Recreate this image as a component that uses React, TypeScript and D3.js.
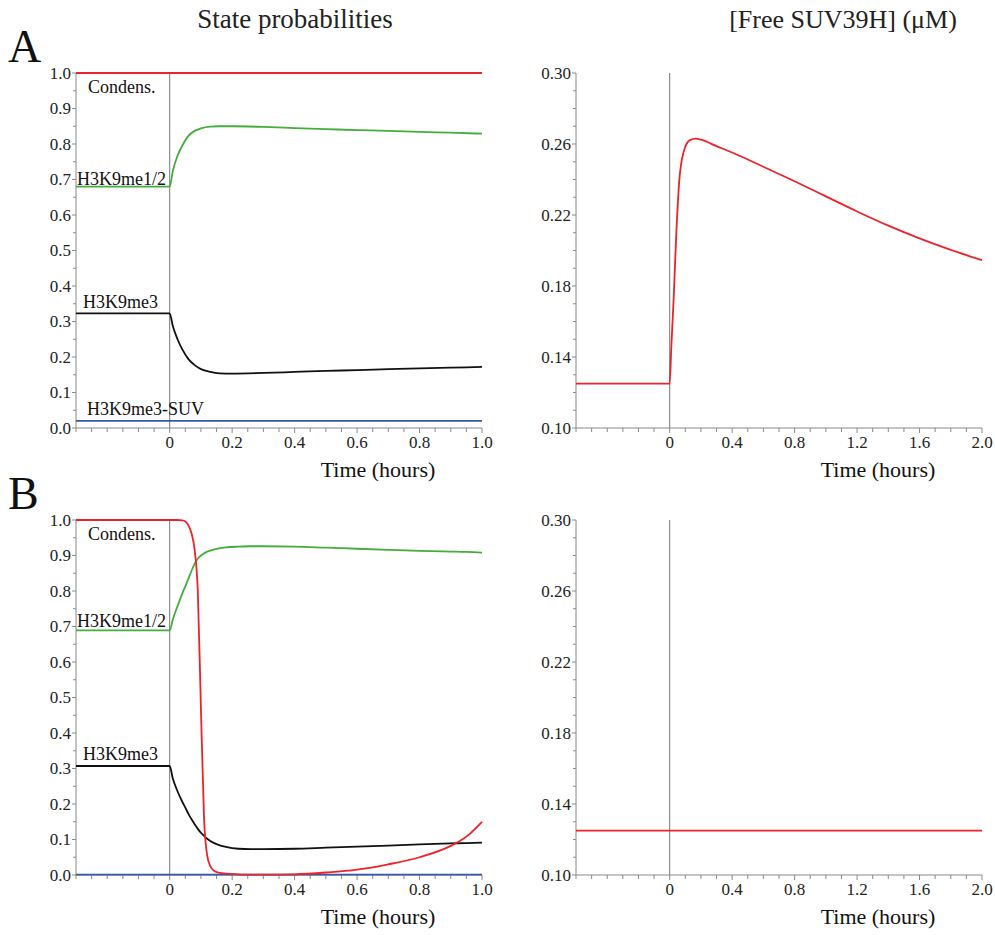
import React from "react";
import * as d3 from "d3";

// ---------- DATA ----------
// Panel A, state probabilities (time in hours)
const tA = [-0.3, 0, 0.01, 0.025, 0.04, 0.06, 0.08, 0.1, 0.13, 0.16, 0.2, 0.3, 0.4, 0.5, 0.6, 0.7, 0.8, 0.9, 1.0];
const A_condens = [1, 1, 1, 1, 1, 1, 1, 1, 1, 1, 1, 1, 1, 1, 1, 1, 1, 1, 1];
const A_me12 = [0.68, 0.68, 0.724, 0.767, 0.795, 0.823, 0.837, 0.844, 0.849, 0.85, 0.85, 0.848, 0.845, 0.842, 0.839, 0.837, 0.834, 0.832, 0.829];
const A_me3 = [0.323, 0.323, 0.287, 0.25, 0.222, 0.194, 0.177, 0.166, 0.158, 0.154, 0.153, 0.155, 0.158, 0.161, 0.163, 0.166, 0.168, 0.17, 0.172];
const A_me3suv = [0.02, 0.02, 0.02, 0.02, 0.02, 0.02, 0.02, 0.02, 0.02, 0.02, 0.02, 0.02, 0.02, 0.02, 0.02, 0.02, 0.02, 0.02, 0.02];

// Panel A, free SUV39H (uM)
const tAsuv = [-0.6, 0, 0.01, 0.025, 0.04, 0.065, 0.1, 0.13, 0.166, 0.2, 0.3, 0.4, 0.6, 0.8, 1.0, 1.2, 1.4, 1.6, 1.8, 2.0];
const A_suv = [0.125, 0.125, 0.145, 0.172, 0.205, 0.243, 0.2585, 0.2622, 0.263, 0.2624, 0.2588, 0.2552, 0.2472, 0.239, 0.2305, 0.222, 0.214, 0.2068, 0.2003, 0.1945];

// Panel B, state probabilities
const tB = [-0.3, 0, 0.01, 0.025, 0.04, 0.05, 0.06, 0.07, 0.08, 0.09, 0.1, 0.11, 0.12, 0.13, 0.15, 0.18, 0.22, 0.26, 0.3, 0.4, 0.5, 0.6, 0.7, 0.8, 0.9, 0.95, 1.0];
const B_condens = [1, 1, 1, 1, 0.999, 0.996, 0.985, 0.962, 0.915, 0.8, 0.47, 0.16, 0.055, 0.025, 0.008, 0.004, 0.002, 0.001, 0.001, 0.002, 0.007, 0.015, 0.03, 0.05, 0.082, 0.108, 0.15];
const B_me12 = [0.689, 0.689, 0.72, 0.757, 0.792, 0.813, 0.835, 0.857, 0.877, 0.891, 0.9, 0.906, 0.911, 0.914, 0.919, 0.923, 0.925, 0.926, 0.926, 0.925, 0.922, 0.919, 0.916, 0.913, 0.911, 0.91, 0.908];
const B_me3 = [0.307, 0.307, 0.272, 0.236, 0.207, 0.19, 0.172, 0.157, 0.143, 0.13, 0.119, 0.11, 0.102, 0.096, 0.087, 0.079, 0.074, 0.073, 0.073, 0.074, 0.077, 0.08, 0.083, 0.086, 0.089, 0.09, 0.091];
const B_me3suv = [0.001, 0.001, 0.001, 0.001, 0.001, 0.001, 0.001, 0.001, 0.001, 0.001, 0.001, 0.001, 0.001, 0.001, 0.001, 0.001, 0.001, 0.001, 0.001, 0.001, 0.001, 0.001, 0.001, 0.001, 0.001, 0.001, 0.001];

// Panel B, free SUV39H
const tBsuv = [-0.6, 0, 2.0];
const B_suv = [0.125, 0.125, 0.125];

// Axis ticks
const probTicks = d3.range(0, 1.0001, 0.05);
const probLabels = [0, 0.1, 0.2, 0.3, 0.4, 0.5, 0.6, 0.7, 0.8, 0.9, 1.0];
const suvTicks = d3.range(0.1, 0.30001, 0.01);
const suvLabels = [0.1, 0.14, 0.18, 0.22, 0.26, 0.3];
const timeTicksL = d3.range(-0.3, 1.0001, 0.05);
const timeLabelsL = [0, 0.2, 0.4, 0.6, 0.8, 1.0];
const timeTicksR = d3.range(-0.6, 2.0001, 0.1);
const timeLabelsR = [0, 0.4, 0.8, 1.2, 1.6, 2.0];

const titles = ["State probabilities", "[Free SUV39H] (\u03bcM)"];
const xTitle = "Time (hours)";
const panelLetters = ["A", "B"];

// ---------- STYLE ----------
const FONT = "'Liberation Serif', 'Times New Roman', Times, serif";
const RED = "#ee2229";
const GREEN = "#44ad3c";
const BLACK = "#111111";
const BLUE = "#3358b4";
const AXIS = "#8a8a8a";

type Series = { t: number[]; v: number[]; color: string };
type Note = { text: string; t: number; v: number; dx: number; dy: number };

function Panel(props: {
  left: number; right: number; top: number; bottom: number;
  xDomain: [number, number]; yDomain: [number, number];
  xTicks: number[]; xLabels: number[]; yTicks: number[]; yLabels: number[];
  yFmt: (v: number) => string;
  series: Series[]; notes: Note[];
}) {
  const { left, right, top, bottom } = props;
  const x = d3.scaleLinear().domain(props.xDomain).range([left, right]);
  const y = d3.scaleLinear().domain(props.yDomain).range([bottom, top]);
  const line = (s: Series) =>
    d3.line<number>()
      .x((_, i) => x(s.t[i]))
      .y((d) => y(d))
      .curve(d3.curveMonotoneX)(s.v) || "";
  const isLabel = (arr: number[], v: number) => arr.some((a) => Math.abs(a - v) < 1e-6);
  const xFmt = (v: number) => (Math.abs(v) < 1e-9 ? "0" : v.toFixed(1));
  return (
    <g>
      {/* zero line */}
      <line x1={x(0)} x2={x(0)} y1={top} y2={bottom} stroke="#777" strokeWidth={1} />
      {/* axes */}
      <line x1={left} x2={left} y1={top} y2={bottom} stroke={AXIS} strokeWidth={1} />
      <line x1={left} x2={right} y1={bottom} y2={bottom} stroke={AXIS} strokeWidth={1} />
      {props.yTicks.map((v, i) => {
        const major = isLabel(props.yLabels, v);
        return (
          <line key={"yt" + i} x1={left - (major ? 4 : 3)} x2={left} y1={y(v)} y2={y(v)} stroke={AXIS} strokeWidth={1} />
        );
      })}
      {props.yLabels.map((v, i) => (
        <text key={"yl" + i} x={left - 5} y={y(v)} dy="0.33em" textAnchor="end" fontSize={17} fontFamily={FONT} fill="#222">
          {props.yFmt(v)}
        </text>
      ))}
      {props.xTicks.map((v, i) => {
        const major = isLabel(props.xLabels, v);
        return (
          <line key={"xt" + i} x1={x(v)} x2={x(v)} y1={bottom} y2={bottom + (major ? 5 : 4)} stroke={AXIS} strokeWidth={1} />
        );
      })}
      {props.xLabels.map((v, i) => (
        <text key={"xl" + i} x={x(v)} y={bottom + 20} textAnchor="middle" fontSize={17} fontFamily={FONT} fill="#222">
          {xFmt(v)}
        </text>
      ))}
      <text x={(left + right) / 2 + 99} y={bottom + 49} textAnchor="middle" fontSize={22} fontFamily={FONT} fill="#111">
        {xTitle}
      </text>
      {props.series.map((s, i) => (
        <path key={"s" + i} d={line(s)} fill="none" stroke={s.color} strokeWidth={1.8} />
      ))}
      {props.notes.map((n, i) => (
        <text key={"n" + i} x={x(n.t) + n.dx} y={y(n.v) + n.dy} fontSize={18} fontFamily={FONT} fill="#111">
          {n.text}
        </text>
      ))}
    </g>
  );
}

export default function App() {
  const L = { left: 76, right: 482 };
  const R = { left: 576, right: 982 };
  const rows = [
    { top: 73, bottom: 428 },
    { top: 520, bottom: 875 },
  ];
  const probFmt = (v: number) => v.toFixed(1);
  const suvFmt = (v: number) => v.toFixed(2);

  return (
    <svg width={995} height={935} style={{ position: "absolute", left: 0, top: 0, background: "#fff" }}>
      <rect x={0} y={0} width={995} height={935} fill="#fff" />
      <text x={295} y={28} textAnchor="middle" fontSize={27} fontFamily={FONT} fill="#222">{titles[0]}</text>
      <text x={843} y={28} textAnchor="middle" fontSize={26} fontFamily={FONT} fill="#222">{titles[1]}</text>
      {panelLetters.map((p, i) => (
        <text key={p} x={8} y={rows[i].top - 11} fontSize={46} fontFamily={FONT} fill="#111">{p}</text>
      ))}

      {/* A left */}
      <Panel {...L} {...rows[0]} xDomain={[-0.3, 1.0]} yDomain={[0, 1]}
        xTicks={timeTicksL} xLabels={timeLabelsL} yTicks={probTicks} yLabels={probLabels} yFmt={probFmt}
        series={[
          { t: tA, v: A_me3suv, color: BLUE },
          { t: tA, v: A_me3, color: BLACK },
          { t: tA, v: A_me12, color: GREEN },
          { t: tA, v: A_condens, color: RED },
        ]}
        notes={[
          { text: "Condens.", t: -0.3, v: 1.0, dx: 12, dy: 20 },
          { text: "H3K9me1/2", t: -0.3, v: A_me12[0], dx: 1, dy: -2 },
          { text: "H3K9me3", t: -0.3, v: A_me3[0], dx: 7, dy: -5 },
          { text: "H3K9me3-SUV", t: -0.3, v: A_me3suv[0], dx: 11, dy: -6 },
        ]}
      />
      {/* A right */}
      <Panel {...R} {...rows[0]} xDomain={[-0.6, 2.0]} yDomain={[0.1, 0.3]}
        xTicks={timeTicksR} xLabels={timeLabelsR} yTicks={suvTicks} yLabels={suvLabels} yFmt={suvFmt}
        series={[{ t: tAsuv, v: A_suv, color: RED }]}
        notes={[]}
      />
      {/* B left */}
      <Panel {...L} {...rows[1]} xDomain={[-0.3, 1.0]} yDomain={[0, 1]}
        xTicks={timeTicksL} xLabels={timeLabelsL} yTicks={probTicks} yLabels={probLabels} yFmt={probFmt}
        series={[
          { t: tB, v: B_me3suv, color: BLUE },
          { t: tB, v: B_me3, color: BLACK },
          { t: tB, v: B_me12, color: GREEN },
          { t: tB, v: B_condens, color: RED },
        ]}
        notes={[
          { text: "Condens.", t: -0.3, v: 1.0, dx: 12, dy: 20 },
          { text: "H3K9me1/2", t: -0.3, v: B_me12[0], dx: 1, dy: -3 },
          { text: "H3K9me3", t: -0.3, v: B_me3[0], dx: 7, dy: -6 },
        ]}
      />
      {/* B right */}
      <Panel {...R} {...rows[1]} xDomain={[-0.6, 2.0]} yDomain={[0.1, 0.3]}
        xTicks={timeTicksR} xLabels={timeLabelsR} yTicks={suvTicks} yLabels={suvLabels} yFmt={suvFmt}
        series={[{ t: tBsuv, v: B_suv, color: RED }]}
        notes={[]}
      />
    </svg>
  );
}
